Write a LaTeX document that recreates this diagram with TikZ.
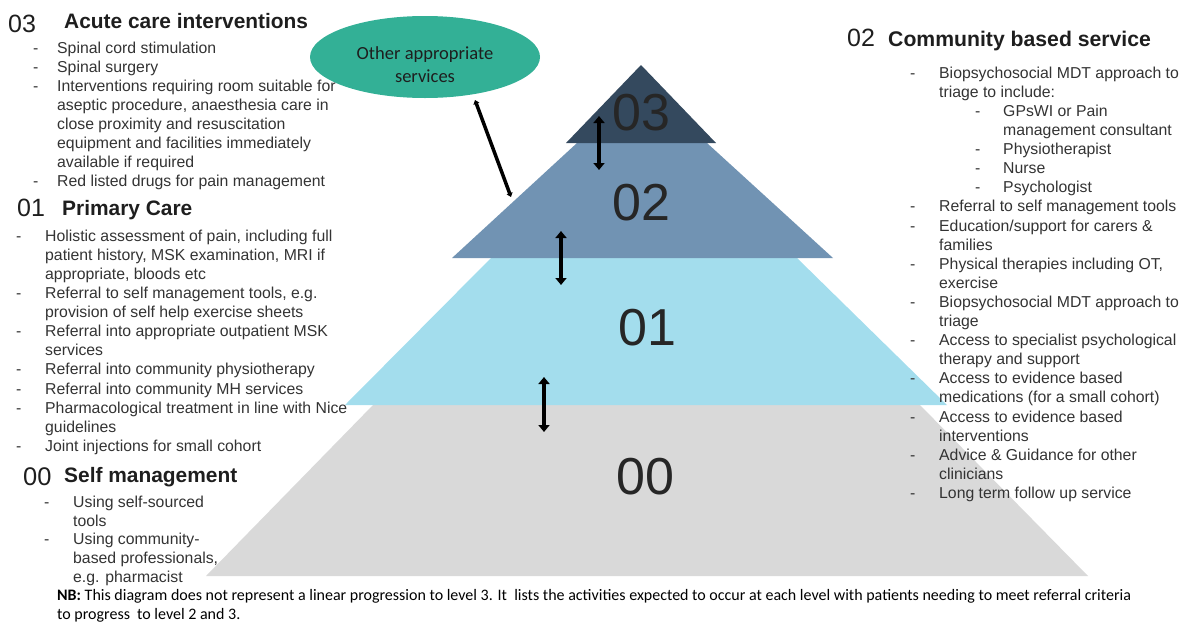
\documentclass[tikz,border=0pt]{standalone}
\usepackage{fontspec}
\setmainfont{Liberation Sans}
\newfontfamily\calib{Carlito}
\usetikzlibrary{shapes.geometric,arrows.meta}
\definecolor{lvgrey}{HTML}{D9D9D9}
\definecolor{lvlight}{HTML}{A3DDED}
\definecolor{lvmid}{HTML}{7193B3}
\definecolor{lvdark}{HTML}{34495E}
\definecolor{tealov}{HTML}{33B096}
\definecolor{txt}{HTML}{333333}
\definecolor{hd}{HTML}{1E1E1E}
\newlength\dw
\newcommand\dd{\makebox[\dw][l]{-}}
\newcommand\ii{\hspace*{\dw}}
\newcommand\sd{\hspace*{65pt}\makebox[28pt][l]{-}}
\newcommand\si{\hspace*{93pt}}
\newcommand\fs{\rule{0pt}{13pt}}
\begin{document}
\begin{tikzpicture}[x=1pt,y=-1pt,
  body/.style={anchor=north west, inner sep=0, align=left, text=txt,
    font=\fontsize{15.8}{19.1}\selectfont\setlength\dw{#1}},
  hnum/.style={anchor=base west, inner sep=0, text=hd, font=\fontsize{25}{28}\selectfont},
  htitle/.style={anchor=base west, inner sep=0, text=hd, font=\fontsize{20.9}{24}\selectfont\bfseries},
  lvnum/.style={inner sep=0, text=black!85, font=\fontsize{52}{60}\selectfont},
  dbl/.style={line width=3.5pt, {Triangle[width=11pt,length=7pt]}-{Triangle[width=11pt,length=7pt]}},
  thinlink/.style={line width=3.5pt, {Triangle[width=6pt,length=4pt]}-{Triangle[width=6pt,length=4pt]}},
]
\useasboundingbox (0,0) rectangle (1185,622);

% pyramid layers
\fill[lvgrey] (373,405) -- (920,405) -- (1088,576) -- (206,576) -- cycle;
\fill[lvlight] (491,258) -- (797,258) -- (947,405) -- (345,405) -- cycle;
\fill[lvmid] (577,143) -- (707,143) -- (833,258) -- (452,258) -- cycle;
\fill[lvdark] (566,143) -- (716,143) -- (641,65) -- cycle;

\node[lvnum] (n03) at (641,113) {03};
\node[lvnum] (n02) at (641,203) {02};
\node[lvnum] (n01) at (647,328) {01};
\node[lvnum] (n00) at (645,477) {00};

% arrows between levels
\coordinate (a3t) at (599,116); \coordinate (a3b) at (599,170);
\coordinate (a2t) at (561,231); \coordinate (a2b) at (561,285);
\coordinate (a1t) at (544,377); \coordinate (a1b) at (544,432);
\draw[dbl] (a3t) -- (a3b);
\draw[dbl] (a2t) -- (a2b);
\draw[dbl] (a1t) -- (a1b);

% other services ellipse
\node[ellipse, fill=tealov, minimum width=230pt, minimum height=82pt, inner sep=0] (oth) at (425,57) {};
\node[inner sep=0, align=center, text=hd, font=\calib\fontsize{18.5}{23}\selectfont] (othtxt) at (425,65) {Other appropriate\\services};
\coordinate (l1) at (475,100); \coordinate (l2) at (511,197);
\draw[thinlink] (l1) -- (l2);

% 03 block
\node[hnum] (h03) at (8,32) {03};
\node[htitle] (t03) at (64,28) {Acute care interventions};
\node[body=24pt] (b03) at (33,40) {\fs\dd Spinal cord stimulation\\
\dd Spinal surgery\\
\dd Interventions requiring room suitable for\\
\ii aseptic procedure, anaesthesia care in\\
\ii close proximity and resuscitation\\
\ii equipment and facilities immediately\\
\ii available if required\\
\dd Red listed drugs for pain management};

% 01 block
\node[hnum] (h01) at (17,216) {01};
\node[htitle] (t01) at (62,215) {Primary Care};
\node[body=29pt] (b01) at (16,228) {\fs\dd Holistic assessment of pain, including full\\
\ii patient history, MSK examination, MRI if\\
\ii appropriate, bloods etc\\
\dd Referral to self management tools, e.g.\\
\ii provision of self help exercise sheets\\
\dd Referral into appropriate outpatient MSK\\
\ii services\\
\dd Referral into community physiotherapy\\
\dd Referral into community MH services\\
\dd Pharmacological treatment in line with Nice\\
\ii guidelines\\
\dd Joint injections for small cohort};

% 00 block
\node[hnum, font=\fontsize{25.5}{28}\selectfont] (h00) at (23,485) {00};
\node[htitle] (t00) at (64,482) {Self management};
\node[body=29pt, font=\fontsize{15.8}{18.8}\selectfont\setlength\dw{29pt}] (b00) at (44,494) {\fs\dd Using self-sourced\\
\ii tools\\
\dd Using community-\\
\ii based professionals,\\
\ii e.g. pharmacist};

% 02 block
\node[hnum] (h02) at (847,46) {02};
\node[htitle, font=\fontsize{21.2}{24}\selectfont\bfseries] (t02) at (888,46) {Community based service};
\node[body=29pt] (b02) at (910,65) {\fs\dd Biopsychosocial MDT approach to\\
\ii triage to include:\\
\sd GPsWI or Pain\\
\si management consultant\\
\sd Physiotherapist\\
\sd Nurse\\
\sd Psychologist\\
\dd Referral to self management tools\\
\dd Education/support for carers \&\\
\ii families\\
\dd Physical therapies including OT,\\
\ii exercise\\
\dd Biopsychosocial MDT approach to\\
\ii triage\\
\dd Access to specialist psychological\\
\ii therapy and support\\
\dd Access to evidence based\\
\ii medications (for a small cohort)\\
\dd Access to evidence based\\
\ii interventions\\
\dd Advice \& Guidance for other\\
\ii clinicians\\
\dd Long term follow up service};

% note
\node[anchor=north west, inner sep=0, align=left, text=black, font=\calib\fontsize{16}{19}\selectfont] (nb) at (57,587)
{\rule{0pt}{13pt}\textbf{NB:} This diagram does not represent a linear progression to level 3. It~ lists the activities expected to occur at each level with patients needing to meet referral criteria\\
to progress~ to level 2 and 3.};
\end{tikzpicture}
\end{document}
